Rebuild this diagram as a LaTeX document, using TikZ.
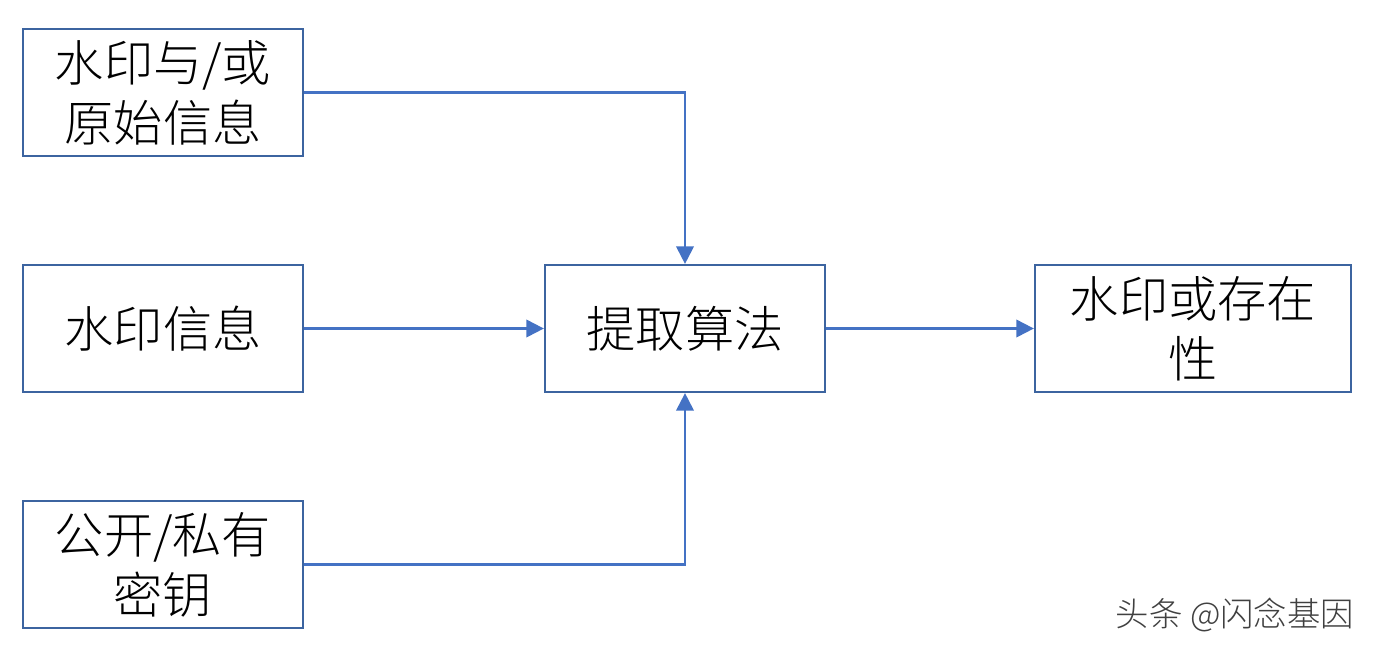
\documentclass[tikz,border=0pt]{standalone}
\usepackage{fontspec}
\newfontfamily\cjk{Noto Sans CJK SC}[UprightFont=* Light]
\usetikzlibrary{arrows.meta}
\definecolor{bx}{RGB}{60,100,160}
\definecolor{ar}{RGB}{68,114,196}
\begin{document}
\begin{tikzpicture}[x=0.01cm,y=-0.01cm,
  box/.style={draw=bx,line width=0.6pt,minimum width=2.8cm,minimum height=1.27cm,align=center,font=\cjk\fontsize{14}{17}\selectfont,inner sep=0pt},
  conn/.style={draw=ar,line width=0.6pt,-{Triangle[length=5pt,width=5pt]}}]
\useasboundingbox (0,0) rectangle (1382,654);
\node[box] (a) at (163,92.5) {水印与/或\\原始信息};
\node[box] (b) at (163,328.5) {水印信息};
\node[box] (c) at (163,564.5) {公开/私有\\密钥};
\node[box] (d) at (685,328.5) {提取算法};
\node[box,minimum width=3.16cm] (e) at (1193,328.5) {水印或存在\\性};
\draw[conn] (a.east) -| (d.north);
\draw[conn] (b) -- (d);
\draw[conn] (c.east) -| (d.south);
\draw[conn] (d) -- (e);
\node[font=\cjk\fontsize{9.5}{11}\selectfont,text=black!75] (w) at (1235,615) {头条 @闪念基因};
\end{tikzpicture}
\end{document}
